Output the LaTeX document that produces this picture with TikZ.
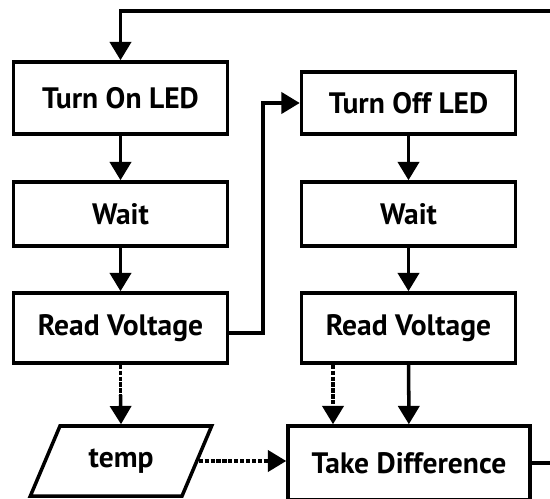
\documentclass[tikz,border=0pt]{standalone}
\usepackage{fontspec}
\setmainfont{PT Sans}
\usetikzlibrary{arrows.meta,shapes.geometric}
\tikzset{
  box/.style={draw, line width=2.5pt, minimum width=5.35cm, font=\fontsize{21}{24}\selectfont\bfseries},
  arr/.style={line width=2.5pt, -{Triangle[length=13pt,width=15pt]}},
  dotarr/.style={arr, dash pattern=on 3pt off 1.2pt},
}
\begin{document}
\begin{tikzpicture}[x=0.025cm,y=-0.025cm]
\useasboundingbox (0,0) rectangle (550,498);
\clip (0,0) rectangle (550,498);
\node[box, minimum height=1.8cm] (on) at (120.5,98) {Turn On LED};
\node[box, minimum height=1.6cm] (wait1) at (120.5,214) {Wait};
\node[box, minimum height=1.75cm] (read1) at (120.5,328) {Read Voltage};
\node[box, minimum height=1.55cm] (off) at (408.5,103) {Turn Off LED};
\node[box, minimum height=1.6cm] (wait2) at (408.5,214) {Wait};
\node[box, minimum height=1.75cm] (read2) at (408.5,328) {Read Voltage};
\node[box, trapezium, trapezium left angle=62, trapezium right angle=118,
  trapezium stretches=true, minimum width=4.55cm, minimum height=1.75cm] (temp) at (121,461) {temp};
\node[box, minimum width=6.05cm, minimum height=1.85cm] (diff) at (409,463) {Take Difference};

\coordinate (jog) at (263,333);
\coordinate (mid1) at (120.5,395);
\coordinate (dx) at (333,0);
\coordinate (loopA) at (580,463);
\coordinate (loopB) at (580,11);

\draw[arr] (on)--(wait1);
\draw[arr] (wait1)--(read1);
\draw[arr] (off)--(wait2);
\draw[arr] (wait2)--(read2);
\draw[arr] (read2)--(diff);
\draw[arr] (read1.east |- jog)--(jog)|-(off.west);
\draw[line width=2.5pt, dash pattern=on 3pt off 1.2pt] (read1.south)--(mid1);
\draw[arr] (mid1)--(temp.north);
\draw[dotarr] (read2.south -| dx)--(diff.north -| dx);
\draw[dotarr] (temp.east)--(temp.east -| diff.west);
\draw[arr] (diff.east)--(loopA)--(loopB)-|(on.north);
\end{tikzpicture}
\end{document}
